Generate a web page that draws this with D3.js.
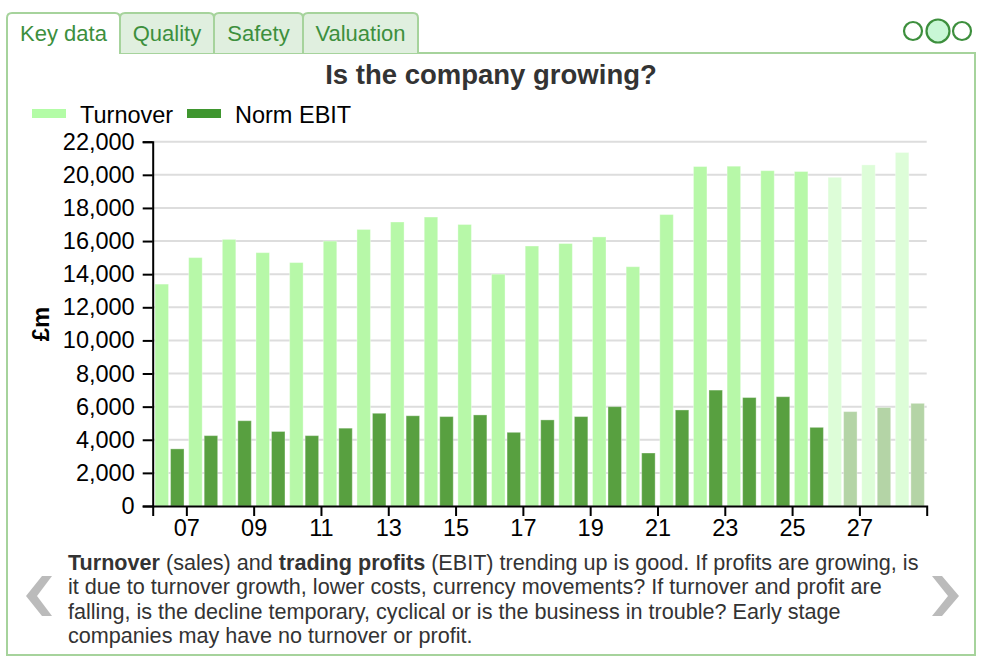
<!DOCTYPE html>
<html>
<head>
<meta charset="utf-8">
<script src="https://cdn.jsdelivr.net/npm/d3@7"></script>
<style>
  body { margin: 0; background: #fff; }
  svg { font-family: Arial, "Liberation Sans", sans-serif; }
</style>
</head>
<body>
<svg id="chart" width="1000" height="664"></svg>
<script>
// chart data
const years = [2006, 2007, 2008, 2009, 2010, 2011, 2012, 2013, 2014, 2015, 2016, 2017,
               2018, 2019, 2020, 2021, 2022, 2023, 2024, 2025, 2026, 2027, 2028];
const turnover = [13400, 15000, 16100, 15300, 14700, 16000, 16700, 17150, 17450, 17000, 14000, 15700,
                  15850, 16250, 14450, 17600, 20500, 20520, 20250, 20200, 19850, 20600, 21350];
const normEbit = [3450, 4250, 5150, 4500, 4250, 4700, 5600, 5450, 5400, 5500, 4450, 5200,
                  5400, 6000, 3200, 5800, 7000, 6550, 6600, 4750, 5700, 5950, 6200];
const firstForecast = 2026;
const seriesNames = ["Turnover", "Norm EBIT"];
const xTickYears = [2007, 2009, 2011, 2013, 2015, 2017, 2019, 2021, 2023, 2025, 2027];
const yTicks = [0, 2000, 4000, 6000, 8000, 10000, 12000, 14000, 16000, 18000, 20000, 22000];
const tabs = ["Key data", "Quality", "Safety", "Valuation"];
const note = [
  [["Turnover", true], [" (sales) and ", false], ["trading profits", true], [" (EBIT) trending up is good. If profits are growing, is", false]],
  [["it due to turnover growth, lower costs, currency movements? If turnover and profit are", false]],
  [["falling, is the decline temporary, cyclical or is the business in trouble? Early stage", false]],
  [["companies may have no turnover or profit.", false]]
];

const svg = d3.select("#chart");
const green = "#3d8f3d";
const border = "#a6d39c";

// panel + tabs
svg.append("rect")
    .attr("x", 7).attr("y", 53).attr("width", 968).attr("height", 602)
    .attr("fill", "#fff").attr("stroke", border).attr("stroke-width", 2);

const tabX = [7, 120, 214, 303, 418];
tabs.forEach((t, i) => {
    const x0 = tabX[i], x1 = tabX[i + 1], r = 5;
    const active = i === 0;
    const yb = active ? 54 : 53;
    svg.append("path")
        .attr("d", `M${x0},${yb} V${13 + r} Q${x0},13 ${x0 + r},13 H${x1 - r} Q${x1},13 ${x1},${13 + r} V${yb}`)
        .attr("fill", active ? "#fff" : "#e0efdf")
        .attr("stroke", border).attr("stroke-width", 2);
    svg.append("text")
        .attr("x", (x0 + x1) / 2).attr("y", 41)
        .attr("text-anchor", "middle")
        .attr("font-size", 22).attr("fill", green)
        .text(t);
});
// hide panel top line under the active tab
svg.append("line")
    .attr("x1", 8).attr("x2", 119).attr("y1", 53).attr("y2", 53)
    .attr("stroke", "#fff").attr("stroke-width", 2.5);

// page dots
[[913, 9, "#fff"], [938, 11.5, "#c9f7d6"], [962, 9, "#fff"]].forEach(d => {
    svg.append("circle").attr("cx", d[0]).attr("cy", 31).attr("r", d[1])
        .attr("fill", d[2]).attr("stroke", green).attr("stroke-width", 2.2);
});

// title
svg.append("text")
    .attr("x", 491).attr("y", 84)
    .attr("text-anchor", "middle")
    .attr("font-size", 27.5).attr("font-weight", "bold").attr("fill", "#333")
    .text("Is the company growing?");

// scales
const plotL = 152.7, plotR = 926.7, plotT = 141.7, plotB = 506;
const x = d3.scaleLinear().domain([years[0], years[years.length - 1] + 1]).range([plotL, plotR]);
const y = d3.scaleLinear().domain([0, 22000]).range([plotB, plotT]);
const inner = d3.scaleBand().domain(seriesNames)
    .range([0, x(years[1]) - x(years[0])]).paddingInner(0.13).paddingOuter(0.15);

// gridlines
svg.append("g").selectAll("line")
    .data(yTicks.slice(1))
    .join("line")
    .attr("x1", plotL).attr("x2", plotR)
    .attr("y1", d => y(d)).attr("y2", d => y(d))
    .attr("stroke", "#ddd").attr("stroke-width", 2);

// bars
const rows = years.map((yr, i) => ({ year: yr, values: [turnover[i], normEbit[i]] }));
const colours = {
    actual: ["#b7f8a8", "#58a040"],
    forecast: ["#ddfdd8", "#b4d4a6"]
};
const groups = svg.append("g").selectAll("g")
    .data(rows)
    .join("g")
    .attr("transform", d => `translate(${x(d.year)},0)`);
groups.selectAll("rect")
    .data(d => d.values.map((v, k) => ({ name: seriesNames[k], k: k, v: v, fc: d.year >= firstForecast })))
    .join("rect")
    .attr("x", d => inner(d.name))
    .attr("width", inner.bandwidth())
    .attr("y", d => y(d.v))
    .attr("height", d => y(0) - y(d.v))
    .attr("fill", d => (d.fc ? colours.forecast : colours.actual)[d.k])
    .attr("stroke", "#fff").attr("stroke-opacity", 0.35).attr("stroke-width", 1);

// axes
const yAxis = svg.append("g")
    .attr("transform", `translate(${plotL},0)`)
    .call(d3.axisLeft(y).tickValues(yTicks).tickFormat(d3.format(",")).tickSize(10).tickPadding(8));
const xAxis = svg.append("g")
    .attr("transform", `translate(0,${plotB})`)
    .call(d3.axisBottom(x).tickValues(xTickYears).tickFormat(d => String(d).slice(2)).tickSize(10).tickPadding(3));
[yAxis, xAxis].forEach(a => {
    a.attr("font-family", null).attr("font-size", 23.5);
    a.selectAll("path, line").attr("stroke", "#000").attr("stroke-width", 2);
    a.selectAll("text").attr("fill", "#000");
});

// y label
svg.append("text")
    .attr("transform", "translate(49,324) rotate(-90)")
    .attr("text-anchor", "middle")
    .attr("font-size", 24).attr("font-weight", "bold").attr("fill", "#000")
    .text("£m");

// legend
const legend = svg.append("g").selectAll("g")
    .data(seriesNames)
    .join("g")
    .attr("transform", (d, i) => `translate(${[32, 187][i]},0)`);
legend.append("rect")
    .attr("y", 109).attr("width", 34).attr("height", 9)
    .attr("fill", (d, i) => ["#b3fca6", "#3f962f"][i]);
legend.append("text")
    .attr("x", 48).attr("y", 123)
    .attr("font-size", 23.5).attr("fill", "#000")
    .text(d => d);

// note
const noteText = svg.append("text").attr("font-size", 21.6).attr("fill", "#333");
note.forEach((line, i) => {
    line.forEach((seg, j) => {
        const ts = noteText.append("tspan").text(seg[0])
            .attr("font-weight", seg[1] ? "bold" : null);
        if (j === 0) ts.attr("x", 68).attr("y", 570 + i * 24.3);
    });
});

// arrows
svg.append("path").attr("d", "M42,576 L52,576 L37,596 L52,616 L42,616 L26,596 Z").attr("fill", "#bbb");
svg.append("path").attr("d", "M932,576 L942,576 L959,596 L942,616 L932,616 L948,596 Z").attr("fill", "#bbb");
</script>
</body>
</html>
